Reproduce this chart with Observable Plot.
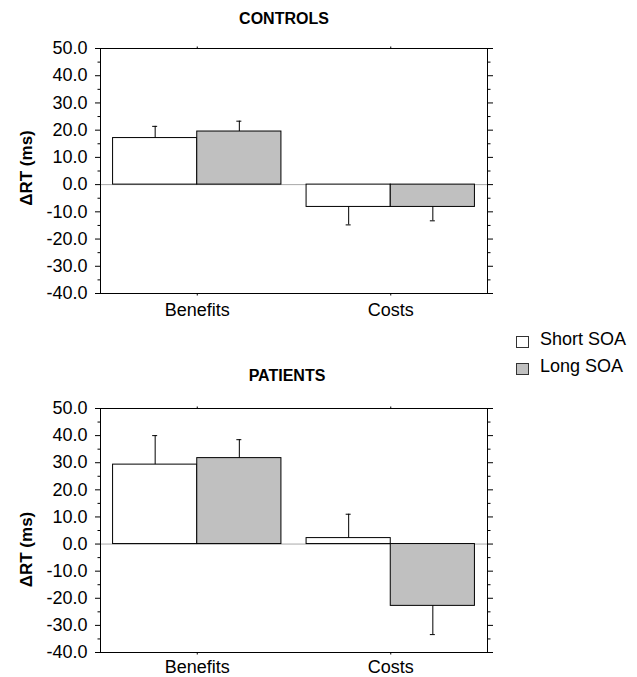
<!DOCTYPE html>
<html><head><meta charset="utf-8">
<script src="https://cdn.jsdelivr.net/npm/d3@7"></script>
<script src="https://cdn.jsdelivr.net/npm/@observablehq/plot@0.6"></script>
<style>
body{margin:0;background:#fff;font-family:"Liberation Sans",Arial,sans-serif;}
#wrap{position:relative;width:637px;height:677px;overflow:hidden;background:#fff;}
.panel{position:absolute;left:0;}
.title{position:absolute;width:200px;text-align:center;font-weight:bold;font-size:16px;line-height:16px;color:#000;}
.leg{position:absolute;font-size:18px;line-height:18px;white-space:nowrap;color:#000;}
.sw{position:absolute;width:11px;height:10px;border:1px solid #333;}
</style></head><body><div id="wrap"></div>
<script>
const categories = ["Benefits", "Costs"];
const series = ["Short SOA", "Long SOA"];
const seriesFill = ["#ffffff", "#c0c0c0"];
const yTicks = [-40, -30, -20, -10, 0, 10, 20, 30, 40, 50];
const yMinorTicks = [-35, -25, -15, -5, 5, 15, 25, 35, 45];
const yLabel = "ΔRT (ms)";

const controlsShort = [17.1, -8.2];
const controlsShortErr = [4.3, 6.6];
const controlsLong = [19.5, -8.2];
const controlsLongErr = [3.8, 5.1];

const patientsShort = [29.3, 2.2];
const patientsShortErr = [10.7, 8.8];
const patientsLong = [31.7, -22.8];
const patientsLongErr = [6.8, 10.6];

const barW = 0.435;
const font = "'Liberation Sans', Arial, sans-serif";

function rows(vals, errs) {
  const out = [];
  series.forEach((s, si) => categories.forEach((c, ci) => {
    const v = vals[si][ci], e = errs[si][ci], c0 = ci + 0.5;
    out.push({series: s, category: c, value: v,
      x1: c0 + (si - 1) * barW, x2: c0 + si * barW, xc: c0 + (si - 0.5) * barW,
      end: v + Math.sign(v) * e});
  }));
  return out;
}

function panel(data, height, marginBottom, labelDy, xPad) {
  const catTicks = categories.map((c, i) => i + 0.5);
  return Plot.plot({
    width: 637, height, marginTop: 48, marginBottom, marginLeft: 100, marginRight: 150,
    style: {fontFamily: font, fontSize: "18px", color: "#000", background: "transparent", overflow: "visible"},
    x: {type: "linear", domain: [0, categories.length]},
    y: {domain: [-40, 50]},
    color: {domain: series, range: seriesFill},
    marks: [
      Plot.ruleY([0], {stroke: "#a8a8a8"}),
      Plot.rect(data, {x1: "x1", x2: "x2", y1: 0, y2: "value", fill: "series", stroke: "#000", strokeWidth: 1}),
      Plot.ruleX(data, {x: "xc", y1: "value", y2: "end", stroke: "#000"}),
      Plot.ruleY(data, {y: "end", x1: "xc", x2: "xc", insetLeft: -2.5, insetRight: -2.5, stroke: "#000"}),
      Plot.frame({stroke: "#000"}),
      Plot.axisY(yTicks, {anchor: "left", tickSize: 5, tickPadding: 8, tickFormat: d => d.toFixed(1), label: null}),
      Plot.axisY(yMinorTicks, {anchor: "left", tickSize: 2.5, tickFormat: () => "", label: null}),
      Plot.axisY(yTicks, {anchor: "right", tickSize: 5, tickFormat: () => "", label: null}),
      Plot.axisY(yMinorTicks, {anchor: "right", tickSize: 2.5, tickFormat: () => "", label: null}),
      Plot.axisX(catTicks, {anchor: "bottom", tickSize: 2.5, tickPadding: xPad, tickFormat: x => categories[Math.floor(x)], label: null}),
      Plot.axisX(catTicks, {anchor: "top", tickSize: 2.5, tickFormat: () => "", label: null}),
      Plot.text([yLabel], {frameAnchor: "left", textAnchor: "middle", lineAnchor: "middle", rotate: -90, dx: -74, dy: labelDy, fontWeight: "bold", fontSize: 17})
    ]
  });
}

const wrap = document.getElementById("wrap");
function place(el, top) { el.classList.add("panel"); el.style.top = top + "px"; wrap.appendChild(el); }

place(panel(rows([controlsShort, controlsLong], [controlsShortErr, controlsLongErr]), 320, 27, -3, 7), 0);
place(panel(rows([patientsShort, patientsLong], [patientsShortErr, patientsLongErr]), 317, 25, 19, 5), 360);

function addTitle(text, cx, top) {
  const d = document.createElement("div");
  d.className = "title"; d.textContent = text;
  d.style.left = (cx - 100) + "px"; d.style.top = top + "px";
  wrap.appendChild(d);
}
addTitle("CONTROLS", 284, 11);
addTitle("PATIENTS", 287, 368);

series.forEach((s, i) => {
  const top = 330 + i * 27;
  const sw = document.createElement("div");
  sw.className = "sw"; sw.style.left = "516px"; sw.style.top = (top + 6) + "px";
  sw.style.background = seriesFill[i];
  wrap.appendChild(sw);
  const t = document.createElement("div");
  t.className = "leg"; t.textContent = s;
  t.style.left = "540px"; t.style.top = top + "px";
  wrap.appendChild(t);
});
</script></body></html>
